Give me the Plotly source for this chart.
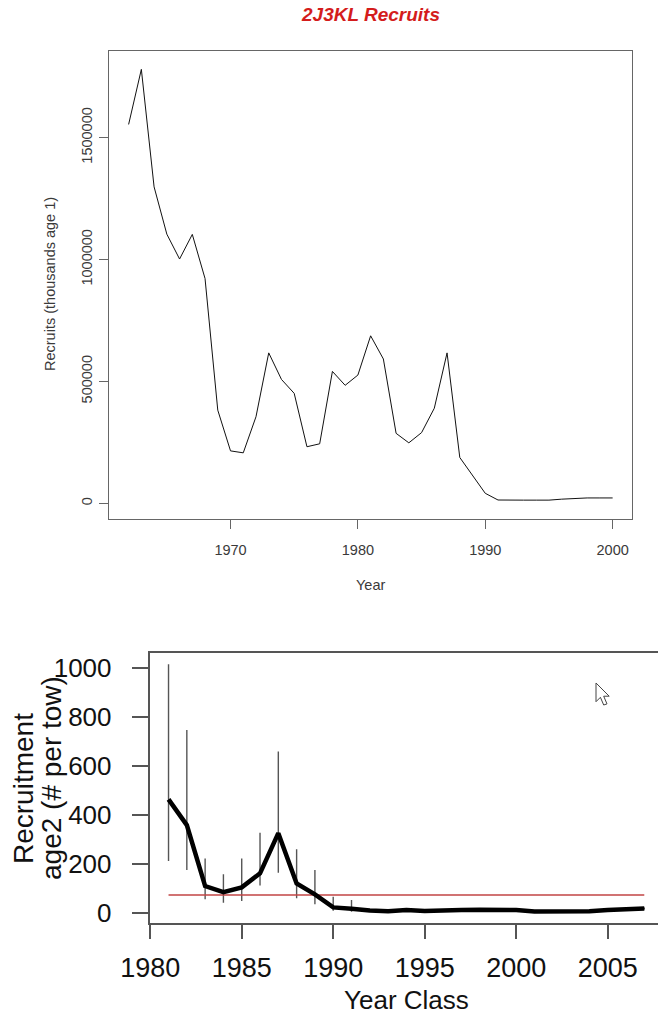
import plotly.graph_objects as go

# ---- 2J3KL recruits (thousands, age 1) ----
rec_years = list(range(1962, 2001))
rec_values = [1554000, 1780000, 1298000, 1104000, 1002000, 1103000, 922000, 382000,
              215000, 207000, 355000, 617000, 508000, 451000, 232000, 244000,
              541000, 484000, 526000, 687000, 592000, 287000, 248000, 290000,
              390000, 617000, 188000, 112000, 41000, 13500, 12000, 13000,
              13000, 13000, 17000, 20000, 22000, 22000, 22000]
rec_yticks = [0, 500000, 1000000, 1500000]
rec_xticks = [1970, 1980, 1990, 2000]

# ---- age-2 recruitment index (# per tow) by year class ----
yc_years = list(range(1981, 2008))
yc_mean = [465, 360, 111, 86, 106, 163, 327, 122, 77, 24, 19, 11, 8, 13, 9, 9,
           13, 15, 15, 13, 7, 7, 7, 8, 13, 15, 20]
yc_upper = [1017, 748, 224, 159, 224, 329, 660, 261, 177, 68, 54, 18, 10, 18, 11, 11,
            16, 22, 22, 22, 9, 9, 13, 10, 16, 22, 24]
yc_lower = [213, 177, 57, 43, 50, 113, 166, 61, 37, 10, 6, 7, 5, 9, 6, 6,
            9, 11, 11, 9, 4, 4, 4, 5, 9, 11, 16]
yc_reference = 75
yc_xticks = [1980, 1985, 1990, 1995, 2000, 2005]
yc_yticks = [0, 200, 400, 600, 800, 1000]

W, H = 658, 1016


def px(x, y):
    return x / W, 1 - y / H


fig = go.Figure()

fig.add_trace(go.Scatter(
    x=rec_years, y=rec_values, mode="lines",
    line=dict(color="#111111", width=1), xaxis="x", yaxis="y",
    showlegend=False, hoverinfo="skip"))

fig.add_trace(go.Scatter(
    x=yc_years, y=yc_mean, mode="markers", marker=dict(size=0.1, color="rgba(0,0,0,0)"),
    error_y=dict(type="data", symmetric=False,
                 array=[u - m for u, m in zip(yc_upper, yc_mean)],
                 arrayminus=[m - l for m, l in zip(yc_mean, yc_lower)],
                 color="#555555", thickness=1.4, width=0),
    xaxis="x2", yaxis="y2", showlegend=False, hoverinfo="skip"))

fig.add_trace(go.Scatter(
    x=[yc_years[0], yc_years[-1]], y=[yc_reference, yc_reference], mode="lines",
    line=dict(color="#c24545", width=1.4), xaxis="x2", yaxis="y2",
    showlegend=False, hoverinfo="skip"))

fig.add_trace(go.Scatter(
    x=yc_years, y=yc_mean, mode="lines",
    line=dict(color="#000000", width=4.5), xaxis="x2", yaxis="y2",
    showlegend=False, hoverinfo="skip"))

top_font = dict(family="Arial, Liberation Sans, sans-serif", size=14.5, color="#3a3a3a")
big_font = dict(family="Arial, Liberation Sans, sans-serif", size=27, color="#111111")
ytick_font = dict(family="Arial, Liberation Sans, sans-serif", size=26, color="#111111")
ylab_font = dict(family="Arial, Liberation Sans, sans-serif", size=28, color="#111111")

fig.update_layout(
    width=W, height=H,
    margin=dict(l=0, r=0, t=0, b=0, autoexpand=False),
    paper_bgcolor="white", plot_bgcolor="white",
    xaxis=dict(domain=[109 / W, 632 / W], range=[1960.46, 2001.52], anchor="y",
               tickvals=rec_xticks, ticks="outside", ticklen=9, tickcolor="#666666",
               showline=True, linecolor="#666666", linewidth=1, mirror=True,
               showgrid=False, zeroline=False, tickfont=top_font,
               ticklabelstandoff=9, automargin=False),
    yaxis=dict(domain=[1 - 519 / H, 1 - 50.7 / H], range=[-64400, 1856500], anchor="x",
               tickvals=rec_yticks, ticktext=[str(v) for v in rec_yticks],
               ticks="outside", ticklen=9, tickcolor="#666666", tickangle=-90,
               showline=True, linecolor="#666666", linewidth=1, mirror=True,
               showgrid=False, zeroline=False, tickfont=top_font,
               ticklabelstandoff=1, automargin=False),
    xaxis2=dict(domain=[149.5 / W, 1], range=[1979.96, 2007.75], anchor="y2",
                tickvals=yc_xticks, ticks="outside", ticklen=14, tickwidth=1.5,
                tickcolor="#555555", showline=True, linecolor="#555555", linewidth=1.5,
                mirror=True, showgrid=False, zeroline=False, tickfont=big_font,
                ticklabelstandoff=6, automargin=False),
    yaxis2=dict(domain=[1 - 923.3 / H, 1 - 653.3 / H], range=[-40.8, 1061.2], anchor="x2",
                tickvals=yc_yticks, ticks="outside", ticklen=16, tickwidth=1.5,
                tickcolor="#555555", showline=True, linecolor="#555555", linewidth=1.5,
                mirror=False, showgrid=False, zeroline=False, tickfont=ytick_font,
                ticklabelstandoff=15, automargin=False),
)

annotations = [
    dict(text="<b><i>2J3KL Recruits</i></b>", x=370 / W, y=1 - 15 / H,
         font=dict(family="Arial, Liberation Sans, sans-serif", size=19, color="#d41c1c")),
    dict(text="Year", x=370.5 / W, y=1 - 585 / H, font=top_font),
    dict(text="Recruits (thousands age 1)", x=50 / W, y=1 - 284 / H, textangle=-90,
         font=top_font),
    dict(text="Year Class", x=406 / W, y=1 - 1000 / H,
         font=dict(family="Arial, Liberation Sans, sans-serif", size=26, color="#111111")),
    dict(text="Recruitment", x=23 / W, y=1 - 789 / H, textangle=-90, font=ylab_font),
    dict(text="age2 (# per tow)", x=51 / W, y=1 - 778 / H, textangle=-90, font=ylab_font),
]
for a in annotations:
    a.update(xref="paper", yref="paper", xanchor="center", yanchor="middle",
             showarrow=False)
fig.update_layout(annotations=annotations)

# mouse pointer glyph in the lower panel
arrow = [(0, 0), (0, 17), (4, 13), (7, 20), (10, 19), (7, 12), (12, 12)]
tip_x, tip_y, k = 596, 683, 1.1
pts = [px(tip_x + k * ax, tip_y + k * ay) for ax, ay in arrow]
path = "M " + " L ".join(f"{x:.5f},{y:.5f}" for x, y in pts) + " Z"
fig.add_shape(type="path", path=path, xref="paper", yref="paper",
              fillcolor="white", line=dict(color="#444444", width=1))

fig.write_html("out.html")
